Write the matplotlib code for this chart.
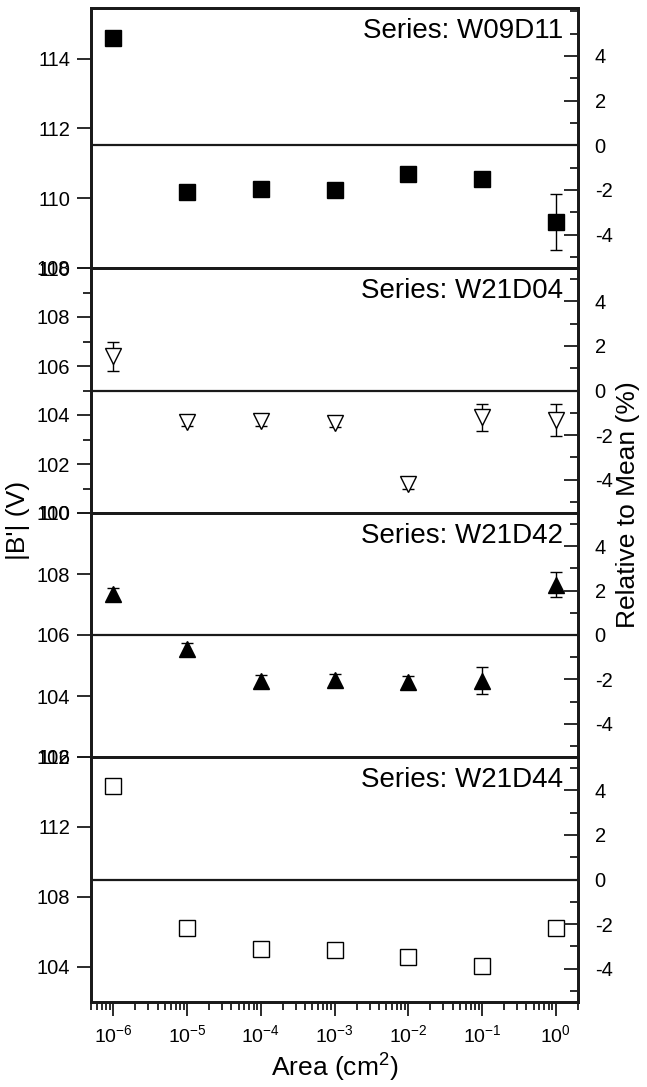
import numpy as np
import matplotlib
matplotlib.use("Agg")
import matplotlib.pyplot as plt
from matplotlib.ticker import MultipleLocator, LogLocator, NullFormatter

plt.rcParams["font.family"] = ["Liberation Sans", "DejaVu Sans"]
plt.rcParams["mathtext.fontset"] = "custom"
plt.rcParams["mathtext.rm"] = "Liberation Sans"
plt.rcParams["mathtext.it"] = "Liberation Sans:italic"
plt.rcParams["axes.unicode_minus"] = False

# data
area = [1e-6, 1e-5, 1e-4, 1e-3, 1e-2, 1e-1, 1e0]
area_labels = ["$10^{-6}$", "$10^{-5}$", "$10^{-4}$", "$10^{-3}$",
               "$10^{-2}$", "$10^{-1}$", "$10^{0}$"]

series_names = ["W09D11", "W21D04", "W21D42", "W21D44"]

b_w09d11 = [114.6, 110.17, 110.26, 110.23, 110.69, 110.56, 109.31]
e_w09d11 = [0.15, 0.1, 0.15, 0.15, 0.15, 0.12, 0.8]

b_w21d04 = [106.4, 103.71, 103.76, 103.67, 101.2, 103.9, 103.8]
e_w21d04 = [0.6, 0.15, 0.2, 0.15, 0.2, 0.55, 0.65]

b_w21d42 = [107.35, 105.55, 104.48, 104.52, 104.45, 104.5, 107.65]
e_w21d42 = [0.2, 0.2, 0.2, 0.2, 0.2, 0.45, 0.4]

b_w21d44 = [114.33, 106.24, 105.05, 105.0, 104.6, 104.03, 106.24]
e_w21d44 = [0.1, 0.1, 0.1, 0.1, 0.1, 0.2, 0.3]

# left-axis limits and ticks, right-axis (%) limits per panel
left_lims = [(108, 115.45), (100, 110), (102, 110), (102, 116)]
left_major = [2, 2, 2, 4]
left_minor = [None, 1, None, None]
right_lims = [(-5.5, 6.15), (-5.5, 5.5), (-5.5, 5.5), (-5.5, 5.5)]

values = [b_w09d11, b_w21d04, b_w21d42, b_w21d44]
errors = [e_w09d11, e_w21d04, e_w21d42, e_w21d44]
markers = ["s", "v", "^", "s"]
filled = [True, False, True, False]
msizes = [11, 12, 12, 11]

W, H = 647, 1087
fig = plt.figure(figsize=(W / 100, H / 100), dpi=100)

edges = [8, 268, 513, 757, 1002]
x0, x1 = 91, 578
ink = "#1a1a1a"

for i in range(4):
    top, bot = edges[i], edges[i + 1]
    ax = fig.add_axes([x0 / W, 1 - bot / H, (x1 - x0) / W, (bot - top) / H])
    ax.set_xscale("log")
    ax.set_xlim(5e-7, 2)
    ax.set_ylim(*left_lims[i])
    ax.yaxis.set_major_locator(MultipleLocator(left_major[i]))
    if left_minor[i]:
        ax.yaxis.set_minor_locator(MultipleLocator(left_minor[i]))
        ax.tick_params(axis="y", which="minor", length=6, width=1.3, color=ink)
    else:
        ax.yaxis.set_minor_locator(plt.NullLocator())

    ax.set_xticks(area)
    ax.set_xticklabels(area_labels)
    ax.xaxis.set_minor_locator(LogLocator(base=10, subs=np.arange(2, 10), numticks=20))
    ax.xaxis.set_minor_formatter(NullFormatter())
    ax.tick_params(axis="x", which="major", direction="out", length=10, width=1.3,
                   color=ink, labelsize=14, pad=6)
    ax.tick_params(axis="x", which="minor", direction="out", length=6, width=1.3, color=ink)
    if i < 3:
        ax.tick_params(axis="x", labelbottom=False)
    ax.tick_params(axis="y", which="major", direction="out", length=10, width=1.3,
                   color=ink, labelsize=14.5, pad=5)

    for sp in ax.spines.values():
        sp.set_linewidth(2)
        sp.set_color(ink)

    face = "black" if filled[i] else "white"
    ax.errorbar(area, values[i], yerr=errors[i], fmt=markers[i], ms=msizes[i],
                mfc=face, mec="black", mew=1.0, ecolor="black", elinewidth=1,
                capsize=4, capthick=1, zorder=3)

    rax = ax.twinx()
    rax.set_ylim(*right_lims[i])
    rax.yaxis.set_major_locator(MultipleLocator(2))
    rax.yaxis.set_minor_locator(MultipleLocator(1))
    rax.tick_params(axis="y", which="major", direction="in", length=10, width=1.3,
                    color=ink, labelsize=14.5, pad=12)
    rax.tick_params(axis="y", which="minor", direction="in", length=6, width=1.3, color=ink)
    rax.set_yticks([-4, -2, 0, 2, 4])
    for sp in rax.spines.values():
        sp.set_linewidth(2)
        sp.set_color(ink)
    rax.axhline(0, color=ink, lw=1.6, zorder=1)

    ax.text(0.97, 0.96, "Series: " + series_names[i], transform=ax.transAxes,
            ha="right", va="top", fontsize=20, color="black")

    if i == 3:
        ax.set_xlabel("Area (cm$^2$)", fontsize=19, labelpad=4)

fig.text(18 / W, 1 - 520 / H, "|B'| (V)", rotation=90, ha="center", va="center",
         fontsize=19)
fig.text(628 / W, 1 - 505 / H, "Relative to Mean (%)", rotation=90, ha="center",
         va="center", fontsize=19)

fig.savefig("out.png", dpi=100)
